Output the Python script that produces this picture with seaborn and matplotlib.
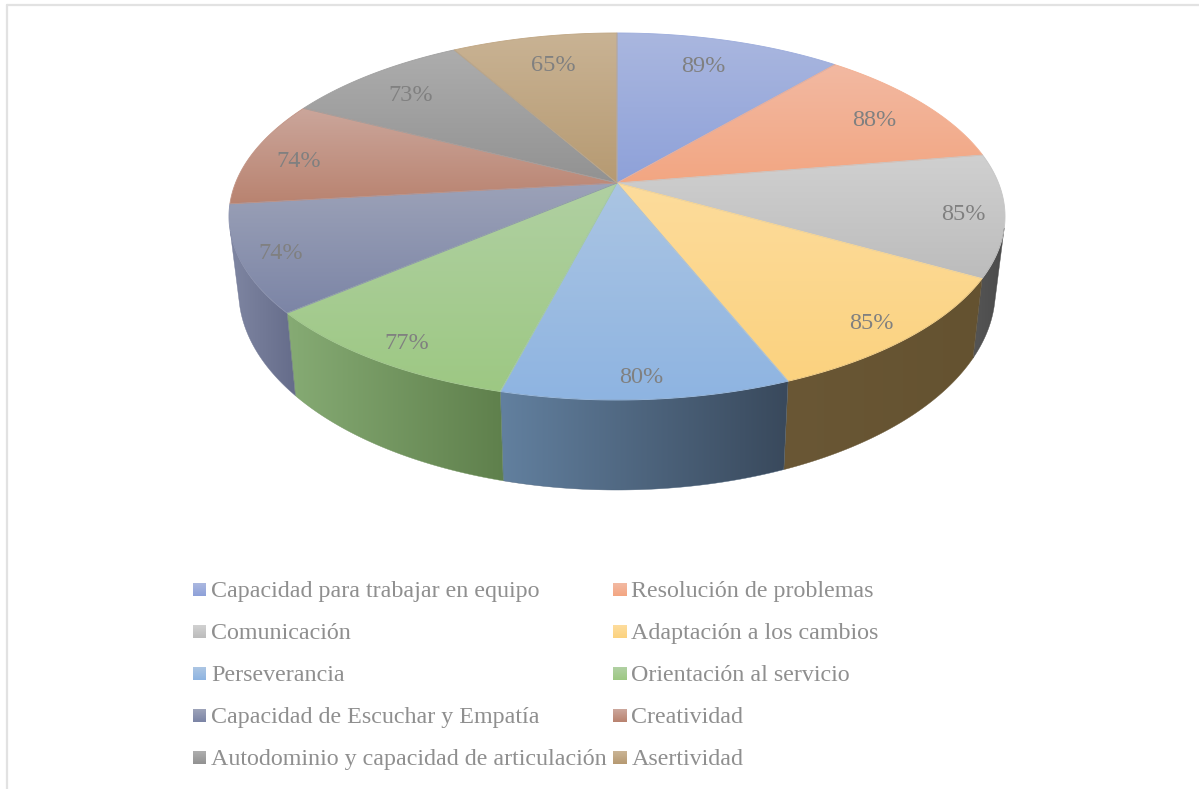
import numpy as np
import seaborn as sns
import matplotlib.pyplot as plt
from matplotlib.colors import LinearSegmentedColormap, to_rgb
from matplotlib.legend_handler import HandlerBase
from matplotlib.patches import PathPatch, Patch, Rectangle
from matplotlib.path import Path

# Data
categories = ["Capacidad para trabajar en equipo", "Resolución de problemas", "Comunicación",
              "Adaptación a los cambios", "Perseverancia", "Orientación al servicio",
              "Capacidad de Escuchar y Empatía", "Creatividad",
              "Autodominio y capacidad de articulación", "Asertividad"]
values = [89, 88, 85, 85, 80, 77, 74, 74, 73, 65]

# top face gradient, upper colour then lower colour
top_light = ["#aab7df", "#f2b9a2", "#d0d0d0", "#fddc9c", "#abc5e3",
             "#b0d0a2", "#9ca2b8", "#cba69b", "#adadad", "#c9b394"]
top_dark = ["#8ea1d9", "#f3a682", "#bcbcbc", "#fbd27f", "#8eb4e1",
            "#9dc883", "#7c85a6", "#b98370", "#929292", "#b69a72"]
# rim gradient, left colour then right colour
rim_left = {2: "#555555", 3: "#6a5735", 4: "#62809f", 5: "#86ab74", 6: "#7f86a2"}
rim_right = {2: "#4a4a4a", 3: "#645230", 4: "#39495c", 5: "#5f804c", 6: "#656c8a"}

# where each percent label sits: fraction of the radius, degrees off the slice middle
label_r = [0.80, 0.82, 0.895, 0.90, 0.91, 0.905, 0.90, 0.865, 0.81, 0.79]
label_dt = [-1.5, 1.2, 0.6, 0.8, 0.3, -0.5, -0.2, -1.4, -0.9, 0.8]

# Perspective of the pie, in pixels
CX, CY, A, B, K = 617, 183, 381.5, 177.4, 0.1825
CY2, A2, B2 = 254.3, 372.0, 192.7
T_RIGHT, T_LEFT = np.radians(104), np.radians(255)


def top_xy(t, r=1.0):
    u, v = r * np.sin(t), r * np.cos(t)
    d = 1 + K * v
    return CX + A * u / d, CY - B * v / d


def bottom_xy(t):
    u, v = np.sin(t), np.cos(t)
    d = 1 + K * v
    return CX + A2 * u / d, CY2 - B2 * v / d


def fill_gradient(ax, xy, c0, c1, vertical, lw=0.6):
    # gradient image clipped to the polygon, with a thin edge to smooth the clip
    path = Path(np.vstack([xy, xy[:1]]), closed=True)
    grad = np.linspace(0, 1, 256).reshape(-1, 1) if vertical else np.linspace(0, 1, 256).reshape(1, -1)
    cmap = LinearSegmentedColormap.from_list("g", [c0, c1])
    x0, y0 = xy.min(axis=0)
    x1, y1 = xy.max(axis=0)
    im = ax.imshow(grad, cmap=cmap, extent=(x0, x1, y1, y0), aspect="auto",
                   interpolation="bilinear", zorder=2)
    patch = PathPatch(path, facecolor="none", edgecolor="none", transform=ax.transData)
    ax.add_patch(patch)
    im.set_clip_path(patch)
    mid = tuple((np.array(to_rgb(c0)) + np.array(to_rgb(c1))) / 2)
    ax.add_patch(PathPatch(path, facecolor="none", edgecolor=mid, lw=lw, zorder=2.1))


class GradientSquare(HandlerBase):
    # legend key as a small square with a vertical gradient
    def create_artists(self, legend, orig, xd, yd, width, height, fontsize, trans):
        i = orig.get_gid()
        cmap = LinearSegmentedColormap.from_list("k", [top_light[int(i)], top_dark[int(i)]])
        y0 = -yd - 0.2
        n = 13
        return [Rectangle((-xd, y0 + width * (n - 1 - j) / n), width, width / n + 0.1,
                          facecolor=cmap(j / (n - 1)), edgecolor="none", transform=trans)
                for j in range(n)]


sns.set_theme(style="white")
plt.rcParams["font.family"] = ["Liberation Serif", "DejaVu Serif"]

fig = plt.figure(figsize=(11.99, 7.89), dpi=100)
ax = fig.add_axes([0, 0, 1, 1])
palette = sns.color_palette(top_dark)

edges = np.cumsum([0] + values) / sum(values) * 2 * np.pi

# rim below the top face
for i in rim_left:
    t0, t1 = max(edges[i], T_RIGHT), min(edges[i + 1], T_LEFT)
    t = np.linspace(t0, t1, 80)
    tx, ty = top_xy(t)
    bx, by = bottom_xy(t)
    xy = np.column_stack([np.r_[tx, bx[::-1]], np.r_[ty, by[::-1]]])
    fill_gradient(ax, xy, rim_left[i], rim_right[i], vertical=False, lw=0.3)

# top face
for i in range(len(values)):
    t = np.linspace(edges[i], edges[i + 1], 80)
    tx, ty = top_xy(t)
    xy = np.column_stack([np.r_[CX, tx], np.r_[CY, ty]])
    fill_gradient(ax, xy, top_light[i], top_dark[i], vertical=True)

# percent labels
for i, v in enumerate(values):
    x, y = top_xy((edges[i] + edges[i + 1]) / 2 + np.radians(label_dt[i]), label_r[i])
    ax.text(x, y + 1.5, f"{v}%", ha="center", va="center", fontsize=17.5, color="#808080", zorder=3)

# frame, only top and left show
ax.plot([7, 7], [5, 789], color="#e2e2e2", lw=1.6, zorder=1)
ax.plot([7, 1199], [5, 5], color="#e2e2e2", lw=1.6, zorder=1)

ax.set_xlim(0, 1199)
ax.set_ylim(789, 0)
ax.axis("off")

# matplotlib fills legend columns first, the chart reads row by row
order = list(range(0, 10, 2)) + list(range(1, 10, 2))
handles = [Patch(facecolor=palette[i], gid=str(i)) for i in order]
ax.legend(handles, [categories[i] for i in order], ncol=2, loc="upper left",
          bbox_to_anchor=(193 / 1199, 1 - 581 / 789),
          frameon=False, fontsize=17.25, labelcolor="#8f8f8f", handler_map={Patch: GradientSquare()},
          handlelength=0.55, handleheight=0.55, handletextpad=0.2, columnspacing=0.28,
          labelspacing=0.88, borderpad=0, borderaxespad=0)

plt.savefig("out.png", dpi=100)
